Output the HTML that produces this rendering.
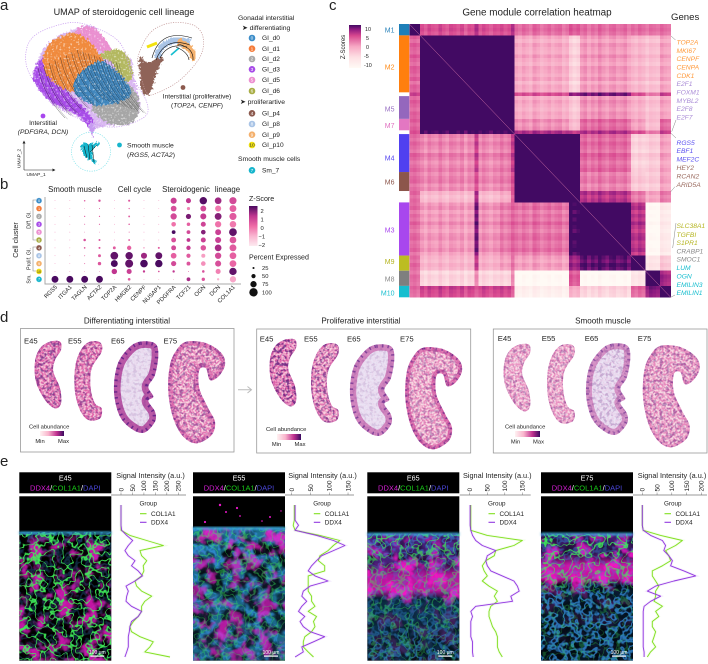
<!DOCTYPE html>
<html lang="en"><head><meta charset="utf-8"><title>Steroidogenic cell lineage figure</title>
<style>
html,body{margin:0;padding:0;background:#fff}
svg{display:block}
text{font-family:"Liberation Sans",sans-serif;fill:#222}
.it{font-style:italic}
</style></head>
<body>
<svg id="fig" xmlns="http://www.w3.org/2000/svg" width="708" height="664" viewBox="0 0 708 664">
<defs>
<linearGradient id="zbar" x1="0" y1="1" x2="0" y2="0"><stop offset="0" stop-color="#fdeaf0"/><stop offset=".25" stop-color="#f9b5d0"/><stop offset=".5" stop-color="#ee6aa6"/><stop offset=".75" stop-color="#c0358f"/><stop offset="1" stop-color="#4a0a60"/></linearGradient>
<linearGradient id="hbar" x1="0" y1="1" x2="0" y2="0"><stop offset="0" stop-color="#fffaf5"/><stop offset=".25" stop-color="#fde0e4"/><stop offset=".5" stop-color="#f7a8c4"/><stop offset=".75" stop-color="#d8488f"/><stop offset=".9" stop-color="#8e1a80"/><stop offset="1" stop-color="#420a63"/></linearGradient>
<linearGradient id="abar"><stop offset="0" stop-color="#fff2f2"/><stop offset=".35" stop-color="#f9b4cc"/><stop offset=".7" stop-color="#c0308f"/><stop offset="1" stop-color="#3a0a60"/></linearGradient>
<filter id="f-rough" x="-15%" y="-15%" width="130%" height="130%"><feTurbulence type="fractalNoise" baseFrequency=".4" numOctaves="2" seed="7"/><feDisplacementMap in="SourceGraphic" scale="6" xChannelSelector="R" yChannelSelector="G"/></filter>
<filter id="f-grain" x="0" y="0" width="1" height="1" color-interpolation-filters="sRGB"><feTurbulence type="fractalNoise" baseFrequency=".55" numOctaves="1" seed="17"/><feColorMatrix values="0 0 0 0 1  0 0 0 0 1  0 0 0 0 1  1 0 0 0 0"/><feComponentTransfer><feFuncA type="table" tableValues="0 0 0 0 0 0 .2 .9 1 1 1"/></feComponentTransfer></filter>
<filter id="f-mesh" x="0" y="0" width="1" height="1" color-interpolation-filters="sRGB"><feTurbulence type="fractalNoise" baseFrequency=".11" numOctaves="2" seed="4"/><feColorMatrix values="0 0 0 0 .25  0 0 0 0 .95  0 0 0 0 .35  1 0 0 0 0"/><feComponentTransfer><feFuncA type="table" tableValues="0 0 0 0 0 0 0 0 0 0 0 0 0 0 0 0 0 0 0 .7 1 .7 0 0 0 0 0 0 0 0 0 0 0 0 0 0 0 0 0 0 0"/></feComponentTransfer></filter>
<filter id="f-cyan" x="0" y="0" width="1" height="1" color-interpolation-filters="sRGB"><feTurbulence type="fractalNoise" baseFrequency=".14" numOctaves="2" seed="11"/><feColorMatrix values="0 0 0 0 .2  0 0 0 0 .55  0 0 0 0 .85  0 1 0 0 0"/><feComponentTransfer><feFuncA type="table" tableValues="0 0 0 0 0 0 0 .6 1 1 .6 0 0 0 0 0 0 0 0 0 0"/></feComponentTransfer></filter>
<filter id="f-blob" x="0" y="0" width="1" height="1" color-interpolation-filters="sRGB"><feTurbulence type="fractalNoise" baseFrequency=".07" numOctaves="3" seed="9"/><feColorMatrix values="0 0 0 0 .95  0 0 0 0 .1  0 0 0 0 .8  0 0 1 0 0"/><feComponentTransfer><feFuncA type="table" tableValues="0 0 0 0 0 .1 .7 1 1 1 1"/></feComponentTransfer></filter>
<filter id="f-hole" x="0" y="0" width="1" height="1" color-interpolation-filters="sRGB"><feTurbulence type="fractalNoise" baseFrequency=".09" numOctaves="2" seed="21"/><feColorMatrix values="0 0 0 0 0  0 0 0 0 0  0 0 0 0 0  1 0 0 0 0"/><feComponentTransfer><feFuncA type="table" tableValues="0 0 0 0 0 .5 1 1 1 1 1"/></feComponentTransfer></filter>
<filter id="f-spot-pink" x="0" y="0" width="1" height="1" color-interpolation-filters="sRGB"><feTurbulence type="fractalNoise" baseFrequency=".5" numOctaves="1" seed="5"/><feColorMatrix values="0 0 0 0 .85  0 0 0 0 .25  0 0 0 0 .6  1 0 0 0 0"/><feComponentTransfer><feFuncA type="table" tableValues="0 0 0 0 0 .5 1 1 1 1 1"/></feComponentTransfer></filter>
<filter id="f-spot-purple" x="0" y="0" width="1" height="1" color-interpolation-filters="sRGB"><feTurbulence type="fractalNoise" baseFrequency=".3" numOctaves="2" seed="13"/><feColorMatrix values="0 0 0 0 .3  0 0 0 0 .05  0 0 0 0 .45  0 1 0 0 0"/><feComponentTransfer><feFuncA type="table" tableValues="0 0 0 0 0 0 .7 1 1 1 1"/></feComponentTransfer></filter>
<filter id="f-soft"><feGaussianBlur stdDeviation="1.2"/></filter>
<clipPath id="umap-main-clip"><path id="umap-main-clip-path"/></clipPath>
</defs>

<g font-size="15">
<text x="0" y="10">a</text>
<text x="0" y="189">b</text>
<text x="329" y="10">c</text>
<text x="0" y="322">d</text>
<text x="0" y="466">e</text>
</g>

<g id="umap">
<text x="124" y="15" text-anchor="middle" font-size="9.1">UMAP of steroidogenic cell lineage</text>
<g id="umap-blobs"></g>
<path d="M157 58Q163 35 190 42" fill="none" stroke="#a9c4e6" stroke-width="6" filter="url(#f-rough)"/>
<path d="M178 41Q197 50 192 60" fill="none" stroke="#f4b06c" stroke-width="6" filter="url(#f-rough)"/>
<path d="M147 47L157 43" fill="none" stroke="#f3e20f" stroke-width="3"/>
<path d="M171 55L179 48" fill="none" stroke="#17becf" stroke-width="1.6"/>
<g clip-path="url(#umap-main-clip)"><rect x="28" y="24" width="118" height="104" fill="#000" filter="url(#f-grain)" opacity=".55"/></g>
<g id="umap-streams" fill="none" stroke="#1a1a1a" stroke-width=".4"></g>
<path d="M152 58Q160 28 192 38M156 60Q165 36 190 45M160 58Q168 42 187 47M178 44Q194 48 193 60M176 47Q188 52 189 60" fill="none" stroke="#111" stroke-width=".6"/>
<path d="M84 146L87 158M88 144L90 160M92 145L94 162M97 145L90 152" fill="none" stroke="#111" stroke-width=".5"/>
<g fill="none" stroke-dasharray="1.2 1.2" stroke-width=".7">
<path id="outline-a" stroke="#c79bf0"/>
<path id="outline-b" stroke="#c49a9a"/>
<circle cx="91" cy="151.7" r="19.5" stroke="#7fe3ea"/>
</g>
<circle cx="43" cy="116" r="2.4" fill="#a847ee"/>
<text x="43" y="125" text-anchor="middle" font-size="6.5">Interstitial</text>
<text x="43" y="134" text-anchor="middle" font-size="6.7" class="it">(PDFGRA, DCN)</text>
<circle cx="183" cy="87.5" r="2.4" fill="#8c5a4e"/>
<text x="197" y="98.5" text-anchor="middle" font-size="6.6">Interstitial (proliferative)</text>
<text x="197" y="107.5" text-anchor="middle" font-size="6.6">(<tspan class="it">TOP2A, CENPF</tspan>)</text>
<circle cx="119.5" cy="145" r="2.4" fill="#17b5cc"/>
<text x="127" y="147.5" font-size="6.8">Smooth muscle</text>
<text x="127" y="157" font-size="6.8">(<tspan class="it">RGS5, ACTA2</tspan>)</text>
<path d="M24 170V143M24 170H53" fill="none" stroke="#222" stroke-width=".6"/>
<path d="M24 140.5l-1.5 3h3zM55.5 170l-3 -1.5v3z" fill="#222"/>
<text transform="translate(20.5,168) rotate(-90)" font-size="4.8">UMAP_2</text>
<text x="26.5" y="176" font-size="4.8">UMAP_1</text>
<text x="238" y="20" font-size="6.8">Gonadal interstitial</text>
<text x="242" y="30" font-size="6.8">➤ differentiating</text>
<text x="240" y="104" font-size="6.8">➤ proliferartive</text>
<text x="238" y="161" font-size="6.8">Smooth muscle cells</text>
<g id="umap-legend"></g>
</g>

<g id="dotplot">
<g font-size="7.8">
<text x="75" y="192" text-anchor="middle">Smooth muscle</text>
<text x="134.5" y="192" text-anchor="middle">Cell cycle</text>
<text x="186" y="192" text-anchor="middle">Steroidogenic</text>
<text x="227.5" y="192" text-anchor="middle">lineage</text>
</g>
<text transform="translate(18,240) rotate(-90)" text-anchor="middle" font-size="7.2">Cell cluster</text>
<g font-size="5.2" text-anchor="middle">
<text transform="translate(30.5,220) rotate(-90)">Diff. GI.</text>
<text transform="translate(30.5,259) rotate(-90)">Prolif. GI.</text>
<text transform="translate(30.5,279) rotate(-90)">Sm.</text>
</g>
<path d="M36 200H33V240H36M36 247H33V271H36" fill="none" stroke="#888" stroke-width=".6"/>
<path d="M45 197V284H241" fill="none" stroke="#aaa" stroke-width="1"/>
<g id="dot-marks"></g>
<text x="249" y="201" font-size="7.1">Z-Score</text>
<rect x="249" y="206" width="8.5" height="40" fill="url(#zbar)"/>
<g font-size="5.8">
<text x="260.5" y="213">2</text>
<text x="260.5" y="221.5">1</text>
<text x="260.5" y="230">0</text>
<text x="258.5" y="238.5">−1</text>
<text x="258.5" y="247">−2</text>
</g>
<text x="249" y="259.5" font-size="7.1">Percent Expressed</text>
<g id="size-legend"></g>
</g>

<g id="heat">
<text x="537" y="15.5" text-anchor="middle" font-size="9.9">Gene module correlation heatmap</text>
<text x="671" y="20" font-size="9.6">Genes</text>
<text transform="translate(345,47) rotate(-90)" text-anchor="middle" font-size="6">Z-Scores</text>
<rect x="349" y="25" width="12" height="43" fill="url(#hbar)"/>
<g font-size="5.4">
<text x="365" y="31">10</text>
<text x="366" y="40">5</text>
<text x="366" y="49">0</text>
<text x="364" y="58">-5</text>
<text x="364" y="67">-10</text>
</g>
<g id="heat-side"></g>
<g id="heat-cells" shape-rendering="crispEdges"></g>
<line x1="409.3" y1="24" x2="670.7" y2="297.3" stroke="#d070a8" stroke-width=".5"/>
<g id="heat-genes"></g>
<path d="M671 36L675.5 40M671.7 131.7L676 120M671 133.3L676 138M670.7 191.7L675 186.7M672.7 248L676 223M670.7 297.3L675 295" fill="none" stroke="#666" stroke-width=".4"/>
</g>

<g id="spatial">
<g font-size="8.1">
<text x="127" y="323.5" text-anchor="middle">Differentiating interstitial</text>
<text x="361" y="323.5" text-anchor="middle">Proliferative interstitial</text>
<text x="603" y="323.5" text-anchor="middle">Smooth muscle</text>
</g>
<rect x="20.5" y="328.5" width="213.5" height="123.5" fill="#fff" stroke="#999" stroke-width=".8"/>
<rect x="256.7" y="329" width="214" height="124" fill="#fff" stroke="#999" stroke-width=".8"/>
<rect x="493.3" y="329" width="213.7" height="124" fill="#fff" stroke="#999" stroke-width=".8"/>
<path d="M238 389.7H251M247.5 386.5L251.5 389.7L247.5 393" fill="none" stroke="#bbb" stroke-width="1"/>
<g id="spatial-sections"></g>
<g font-size="7.7">
<text x="24" y="343.5">E45</text><text x="68" y="343.5">E55</text><text x="111" y="343.5">E65</text><text x="163.5" y="343.5">E75</text>
<text x="259.7" y="341.5">E45</text><text x="304" y="341.5">E55</text><text x="347" y="341.5">E65</text><text x="400" y="341.5">E75</text>
<text x="497.7" y="341">E45</text><text x="541.7" y="341">E55</text><text x="584.7" y="341">E65</text><text x="637.7" y="341">E75</text>
</g>
<g font-size="5.8">
<text x="29" y="428.5">Cell abundance</text>
<rect x="40" y="431" width="24" height="5" fill="url(#abar)"/>
<text x="40" y="443" text-anchor="middle">Min</text><text x="63.5" y="443" text-anchor="middle">Max</text>
<text x="266" y="431">Cell abundance</text>
<rect x="277" y="434" width="24" height="6" fill="url(#abar)"/>
<text x="276.5" y="446" text-anchor="middle">Min</text><text x="300" y="446" text-anchor="middle">Max</text>
<text x="505" y="428.5">Cell abundance</text>
<rect x="515" y="431" width="25" height="6" fill="url(#abar)"/>
<text x="515.5" y="443.5" text-anchor="middle">Min</text><text x="538.5" y="443.5" text-anchor="middle">Max</text>
</g>
</g>

<g id="imaging"></g>
<g id="profiles"></g>
</svg>

<script>
/* ---------- panel b data ---------- */
const dotGenes = ['RGS5','ITGA1','TAGLN','ACTA2','TOP2A','HMGB2','CENPF','NUSAP1','PDGFRA','TCF21','OGN','DCN','COL1A1'];
const dotClusters = ['0','1','2','3','5','6','4','8','9','10','7'];
const dotPercent = [
 [4,4,18,28,6,25,4,6,72,60,88,80,85],
 [4,3,8,12,5,15,3,5,68,38,70,72,82],
 [4,3,15,15,5,22,3,5,75,62,72,82,85],
 [3,3,12,14,5,18,3,5,55,42,60,75,78],
 [3,3,8,8,4,12,3,4,45,45,55,70,92],
 [4,4,30,24,6,22,4,5,58,45,60,72,80],
 [3,4,20,24,34,52,14,24,58,52,65,80,82],
 [4,4,12,34,92,88,72,82,68,50,48,75,80],
 [4,4,12,40,82,95,90,88,62,46,55,72,80],
 [4,3,8,8,65,60,28,20,28,10,30,60,88],
 [82,82,82,82,6,32,5,6,5,45,40,28,75]];
const dotZ = [
 [0,0,.3,.5,0,.4,0,0,.8,1,1.9,1.3,.6],
 [0,0,.3,.3,0,.3,0,0,.5,-.3,.6,-.2,.2],
 [0,0,.3,.3,0,.3,0,0,.6,1.6,.9,1.5,.3],
 [0,0,.3,.3,0,.3,0,0,-.1,.2,.7,-.1,-.2],
 [0,0,.2,.2,0,.2,0,0,2,.6,1.5,.8,1.8],
 [0,0,.5,.4,0,.3,0,0,.5,1,.8,.8,.4],
 [0,0,.3,.4,.3,.2,.1,.3,.6,.9,.4,1.2,.3],
 [0,0,.2,.4,1.8,1.8,1.3,1.8,.2,.3,-.7,.6,.2],
 [0,0,.2,.4,2,1.8,2.2,2.2,.6,.4,-.5,.5,.1],
 [0,0,.2,.2,1,.8,.9,.5,1,.3,.5,-.3,1.8],
 [2.2,2.2,2.2,2.2,0,.3,0,0,0,1.2,.4,-1,-.8]];
const sizeLegendValues = [25,50,75,100];

/* ---------- panel c data ---------- */
const moduleNames = ['M1','M2','gap1','M5','M7','gap2','M4','M6','gap3','M3','M9','M8','M10'];
const moduleBins = [3,15,1,6,3,1,10,5,3,14,4,4,3];
const moduleCorr = [
 [14,4.5,6,4.5,4.5,6,3,3,4,3,3,3,3],
 [3.5,14,14,14,14,14,-.5,-.5,-4,.5,-1.5,-2,0],
 [5,14,14,14,14,14,4,4,7,8,4,2,5],
 [3.5,14,14,14,14,14,-.5,-.5,-3,1,-1,-2,0],
 [3.5,14,14,14,14,14,1,1,-2,3,0,-2,3],
 [4,9,9,9,9,9,6,6,5,6,4,2,5],
 [3,1.5,5,1.5,2,5,14,14,14,3,-4,-3,0],
 [3,1.5,4,1.5,2,4,14,14,14,2,-3,-3,0],
 [3,-2,6,-2,-1,3,14,14,14,6,2,0,2],
 [3,.5,8,1,2,3,2.5,2.5,10,14,6,-10,-7],
 [3,-1.5,5,-1,0,2,0,0,7,9,14,-6,-3],
 [3,-4,1,-4,-4,1,-10,-10,4,-10,-6,13,7],
 [3,5,3,5,5,3,-8,-8,-1,-4,3,8,13]];
const geneShift = [0,.5,-.5, .5,-1,1,0,-.5,1.5,0,-1,1,.5,-.5,1,-1.5,.5,0, 1, -.5,1,0,-1,.5,0, 1,-.5,.5, 1, .5,-.5,1,0,-1,1.5,.5,-1,0,1, -.5,.5,1,-1,0, 1,-.5,.5, 0,1,-1,.5,-.5,1.5,0,-1,.5,1,-.5,0,1,-1, .5,-.5,1,0, -1,.5,0,-.5, 1,0,-.5];
const sideLabels = [['M1',30,'#2b83ba'],['M2',67,'#ff8c1a'],['M5',109,'#9a72c4'],['M7',125.5,'#e070c0'],['M4',158,'#5546f0'],['M6',182,'#8c564b'],['M3',230,'#a847ee'],['M9',261.5,'#b5b520'],['M8',279,'#8a8a8a'],['M10',293,'#17becf']];
const moduleColors = ['#1f7fb8','#ff7f0e',null,'#9467bd','#e377c2',null,'#5040f0','#8c564b',null,'#a847ee','#bcbd22','#7f7f7f','#17becf'];
const geneLabels = ['TOP2A','MKI67','CENPF','CENPA','CDK1','E2F1','FOXM1','MYBL2','E2F8','E2F7','RGS5','EBF1','MEF2C','HEY2','RCAN2','ARID5A','SLC38A1','TGFBI','S1PR1','CRABP1','SMOC1','LUM','OGN','EMILIN3','EMILIN1'];
const geneRows = [44.5,53,61.2,69.7,78,86.2,94.7,103,111.2,119.7,145,153.2,161.7,170,178.7,187.2,228.2,237,245.2,253.7,261.7,270.2,278.7,287.2,295.2];
const geneColors = ['#ff9a3c','#ff9a3c','#ff9a3c','#ff9a3c','#ff9a3c','#a98bd6','#a98bd6','#a98bd6','#a98bd6','#a98bd6','#5b50f0','#5b50f0','#5b50f0','#9a6a5e','#9a6a5e','#9a6a5e','#b5b520','#b5b520','#b5b520','#888','#888','#17becf','#17becf','#17becf','#17becf'];

/* ---------- panel e data (signal intensity, sampled at equal depth steps) ---------- */
const e45Col = [0,0,0,0,0,0,39,112,185,83,90,112,97,100,90,61,68,90,134,104,90,90,75,54,39,46,83,141,126,104,214];
const e45Ddx = [0,0,0,0,0,3,25,51,32,17,32,61,46,75,94,61,22,32,25,22,46,90,75,46,39,36,32,32,32,25,17];
const e55Col = [7,7,7,7,4,9,75,128,111,97,75,71,88,88,44,44,44,44,53,53,62,44,66,58,62,53,35,31,31,44,58];
const e55Ddx = [9,9,9,9,18,9,66,111,142,111,80,66,53,44,62,97,49,31,27,40,27,18,35,22,31,49,88,58,27,31,9];
const e65Col = [3,3,3,3,3,3,50,150,126,74,70,46,36,41,50,36,55,79,70,79,60,55,55,60,65,74,79,79,79,84,93];
const e65Ddx = [1,1,1,1,1,3,8,17,36,74,50,46,50,60,93,126,136,141,117,122,17,3,8,3,3,3,3,8,8,8,10];
const e75Col = [0,0,0,0,0,3,62,136,113,79,90,96,68,34,34,45,56,45,45,40,68,45,56,34,34,45,40,34,45,28,17];
const e75Ddx = [0,0,0,0,0,3,28,68,79,73,90,102,96,141,181,107,45,17,62,28,6,3,3,3,3,3,3,3,3,6,6];
const e45Ticks = [0,50,100,150,200,250];
const e55Ticks = [0,50,100,150];
const e65Ticks = [0,50,100,150];
const e75Ticks = [0,50,100,150,200];

const NS = 'http://www.w3.org/2000/svg';
function mk(tag, attrs, parent, text){
  const el = document.createElementNS(NS, tag);
  for (const k in attrs) el.setAttribute(k, attrs[k]);
  if (text !== undefined) el.textContent = text;
  if (parent) parent.appendChild(el);
  return el;
}
function hexRgb(h){return [parseInt(h.slice(1,3),16),parseInt(h.slice(3,5),16),parseInt(h.slice(5,7),16)];}
function ramp(stops, v){
  if (v <= stops[0][0]) return stops[0][1];
  for (let i = 1; i < stops.length; i++){
    if (v <= stops[i][0]){
      const t = (v - stops[i-1][0]) / (stops[i][0] - stops[i-1][0]);
      const a = hexRgb(stops[i-1][1]), b = hexRgb(stops[i][1]);
      return 'rgb(' + a.map((c,j) => Math.round(c + (b[j]-c)*t)).join(',') + ')';
    }
  }
  return stops[stops.length-1][1];
}
function closedCurve(p){
  const n = p.length;
  let d = 'M' + p[0][0] + ' ' + p[0][1];
  for (let i = 0; i < n; i++){
    const a = p[(i-1+n)%n], b = p[i], c = p[(i+1)%n], e = p[(i+2)%n];
    d += 'C' + (b[0]+(c[0]-a[0])/6).toFixed(1) + ' ' + (b[1]+(c[1]-a[1])/6).toFixed(1) + ' ' +
         (c[0]-(e[0]-b[0])/6).toFixed(1) + ' ' + (c[1]-(e[1]-b[1])/6).toFixed(1) + ' ' + c[0] + ' ' + c[1];
  }
  return d + 'Z';
}

/* ---------- panel a ---------- */
const clusterColor = {'0':'#3a8cc8','1':'#f57c3a','2':'#a9a9a9','3':'#a74be8','5':'#ec8fd0','6':'#a8ad45','4':'#8c5a4e','8':'#a9c4e6','9':'#f4b06c','10':'#f0e010','7':'#16b5cc'};
const umapMass = [[37,62],[50,42],[77,28],[95,27],[110,48],[130,58],[134,78],[140,105],[132,122],[108,126],[92,128],[76,116],[50,102],[34,80]];
const umapShapes = [
 ['scatter-under','#d9b6f2',umapMass,0],
 ['gi-d5','#ea8fd0',[[77,30],[93,28],[107,43],[110,50],[97,50],[80,43]],2],
 ['gi-d3','#a74be8',[[37,67],[45,58],[50,80],[67,93],[87,113],[93,123],[90,127],[77,113],[50,100],[35,80]],2],
 ['gi-d1','#f08a3e',[[50,45],[77,35],[100,57],[97,63],[77,80],[73,90],[57,83],[45,67]],3],
 ['gi-d6','#b3b860',[[100,55],[117,50],[128,57],[132,77],[123,80],[113,63]],1],
 ['gi-d2','#a6a6a6',[[113,72],[132,90],[138,107],[130,122],[110,122],[93,107],[112,100]],3],
 ['gi-d0','#3f86bd',[[77,80],[97,63],[113,70],[130,93],[110,103],[93,103],[77,93]],3],
 ['gi-p4','#8f6458',[[140,57],[148,63],[163,57],[157,72],[150,93],[143,93],[140,77]],0],
 ['sm-7','#17b5cc',[[82,143],[88,144],[100,143],[92,152],[97,164],[90,160],[83,154]],0],
 ['sm-bridge','#c69af0',[[89,124],[95,125],[92,137]],0]
];
const blobs = document.getElementById('umap-blobs');
umapShapes.forEach(s => {
  const el = mk('path', {d: closedCurve(s[2]), fill: s[1], stroke: s[1], 'stroke-width': s[3], filter: 'url(#f-rough)'}, blobs);
  
  
});
document.getElementById('umap-main-clip-path').setAttribute('d', closedCurve(umapMass));
document.getElementById('outline-a').setAttribute('d', closedCurve([[120,43],[133,77],[147,103],[143,118],[110,127],[67,113],[40,90],[26,63],[33,37],[67,23],[93,27]]));
document.getElementById('outline-b').setAttribute('d', closedCurve([[138,57],[150,33],[170,23],[193,25],[203,37],[200,57],[180,80],[157,93],[147,93],[140,73]]));
const streams = document.getElementById('umap-streams');
for (let k = 0; k < 15; k++){
  const sx = 38 + k*5.6, sy = k <= 7 ? 68 - k*2.6 : 50 + (k-7)*1.8;
  for (let j = 0; j < 2; j++){
    const ox = j*2.6, oy = j*1.2;
    const ex = sx + ox + 27, ey = Math.min(sy + oy + 50, 122);
    const el = mk('path', {d: 'M'+(sx+ox)+' '+(sy+oy)+'Q'+(sx+ox+6)+' '+(sy+oy+28)+' '+ex+' '+ey, opacity: j ? .45 : .85}, streams);
    
    
  }
}
const umapLegendItems = [['0','GI_d0',38],['1','GI_d1',48.7],['2','GI_d2',59],['3','GI_d3',69.3],['5','GI_d5',80],['6','GI_d6',91],['4','GI_p4',113.3],['8','GI_p8',124],['9','GI_p9',134.7],['10','GI_p10',145],['7','Sm_7',170.3]];
const umapLegend = document.getElementById('umap-legend');
umapLegendItems.forEach(it => {
  const g = mk('g', {}, umapLegend);
  
  
  mk('circle', {cx: 252, cy: it[2], r: 3.3, fill: clusterColor[it[0]]}, g);
  mk('text', {x: 252, y: it[2]+1.7, 'text-anchor': 'middle', 'font-size': 4.8, style: 'fill:' + (it[0]==='10' ? '#333' : '#fff')}, g, it[0]);
  mk('text', {x: 262, y: it[2]+2.2, 'font-size': 6.6}, g, it[1]);
});

/* ---------- panel b ---------- */
const dotX = i => 55 + i*14.83;
const dotY = i => 200.7 + i*7.86;
const dotR = p => p/100*4.2;
const dotColor = z => ramp([[-2,'#fdeaf0'],[-1,'#f9b5d0'],[0,'#ee6aa6'],[1,'#c0358f'],[2,'#4a0a60']], z);
const dotMarks = document.getElementById('dot-marks');
dotClusters.forEach((c, r) => {
  const b = mk('circle', {cx: 39, cy: dotY(r), r: 2.9, fill: clusterColor[c], stroke: '#fff', 'stroke-width': .3}, dotMarks);
  
  
  const t = mk('text', {x: 39, y: dotY(r)+1.4, 'text-anchor': 'middle', 'font-size': 3.8, style: 'fill:' + (c==='10' ? '#333' : '#fff')}, dotMarks, c);
  
  
  dotGenes.forEach((g, i) => {
    const el = mk('circle', {cx: dotX(i), cy: dotY(r), r: Math.max(.35, dotR(dotPercent[r][i])), fill: dotColor(dotZ[r][i])}, dotMarks);
    
    
  });
});
dotGenes.forEach((g, i) => {
  const el = mk('text', {transform: 'translate(' + (dotX(i)+2.5) + ',287.5) rotate(-45)', 'text-anchor': 'end', 'font-size': 5.8}, dotMarks, g);
  
  
});
const sizeLegend = document.getElementById('size-legend');
sizeLegendValues.forEach((v, i) => {
  const y = 268 + i*8.1;
  const el = mk('circle', {cx: 253.5, cy: y, r: dotR(v), fill: '#111'}, sizeLegend);
  
  
  const t = mk('text', {x: 262, y: y+2, 'font-size': 5.8}, sizeLegend, String(v));
  
  
});

/* ---------- panel c ---------- */
const binCount = moduleBins.reduce((a,b) => a+b, 0);
const heatX = i => 409.3 + i*261.4/binCount;
const heatY = i => 24 + i*273.3/binCount;
const heatColor = v => ramp([[-10,'#fffaf5'],[-5,'#fde0e4'],[0,'#f7a8c4'],[5,'#d8488f'],[8,'#8e1a80'],[10,'#420a63']], v);
const binModule = [];
moduleBins.forEach((n, m) => { for (let i = 0; i < n; i++) binModule.push(m); });
const cells = document.getElementById('heat-cells');
for (let r = 0; r < binCount; r++){
  for (let c = 0; c < binCount; c++){
    const v = moduleCorr[binModule[r]][binModule[c]] + .7*(geneShift[r] + geneShift[c]);
    const el = mk('rect', {x: heatX(c).toFixed(2), y: heatY(r).toFixed(2), width: (261.4/binCount+.4).toFixed(2), height: (273.3/binCount+.4).toFixed(2), fill: heatColor(v)}, cells);
    
    
  }
}
const side = document.getElementById('heat-side');
let binCursor = 0;
moduleBins.forEach((n, m) => {
  if (moduleColors[m]){
    const el = mk('rect', {x: 399, y: heatY(binCursor), width: 10.3, height: heatY(binCursor+n)-heatY(binCursor), fill: moduleColors[m]}, side);
    
    
  }
  binCursor += n;
});
sideLabels.forEach(l => {
  const el = mk('text', {x: 394.5, y: l[1]+2.5, 'text-anchor': 'end', 'font-size': 7, style: 'fill:' + l[2]}, side, l[0]);
  
  
});
const genesG = document.getElementById('heat-genes');
geneLabels.forEach((g, i) => {
  const el = mk('text', {x: 676.5, y: geneRows[i], 'font-size': 6.7, 'font-style': 'italic', style: 'fill:' + geneColors[i]}, genesG, g);
  
  
});

/* ---------- panel d ---------- */
const sectionShapes = {
 E45: [[150,50],[180,50],[183,75],[165,105],[160,140],[180,190],[183,235],[165,250],[135,225],[108,170],[105,110],[120,70]],
 E55: [[265,52],[300,52],[305,80],[275,130],[272,190],[285,235],[305,250],[300,280],[265,285],[240,255],[225,200],[225,130],[240,80]],
 E65: [[420,50],[465,55],[475,90],[465,150],[445,185],[460,215],[445,228],[465,260],[465,290],[435,322],[400,315],[360,275],[342,200],[352,120],[385,70]],
 E75: [[560,50],[620,55],[665,85],[675,120],[655,155],[630,165],[618,130],[598,135],[598,190],[625,250],[645,290],[635,330],[590,355],[550,335],[520,280],[505,200],[510,120],[530,75]]
};
const sectionPlacement = [
 ['E45',0,0,'#f6c3d8',.7,.55,'#cf4fa0',7,.45], ['E55',0,0,'#f6c3d8',.7,.45,'#cf4fa0',6,.4], ['E65',0,0,'#ebe2f3',.05,.12,'#a82c8e',20,.75], ['E75',0,0,'#f9d4e0',.6,.4,'#cf4fa0',13,.5],
 ['E45',235,-2,'#f6c3d8',.7,.7,'#d05aa6',6,.4], ['E55',236.7,2,'#f8cfdd',.6,.55,'#d05aa6',5,.35], ['E65',236,3,'#ebe3f4',.05,.12,'#c04a9c',19,.6], ['E75',237,6,'#f9d9e3',.5,.3,'#c83a94',12,.55],
 ['E45',469,3,'#f9d9e5',.45,.3,'#e07ab4',5,.3], ['E55',472.7,3,'#f9d9e5',.45,.3,'#e07ab4',5,.3], ['E65',472,2,'#ebe3f4',.1,.22,'#c04a9c',18,.5], ['E75',474.6,4,'#f7d6e2',.5,.35,'#e07ab4',9,.45]
];
const secRoot = document.getElementById('spatial-sections');
const defs = document.querySelector('defs');
sectionPlacement.forEach((s, i) => {
  const d = closedCurve(sectionShapes[s[0]]);
  const tr = 'translate(' + s[1] + ',' + (325 + s[2]) + ') scale(.3333)';
  const cp = mk('clipPath', {id: 'sec-clip-' + i}, defs);
  mk('path', {d: d, transform: tr}, cp);
  const xs = sectionShapes[s[0]].map(p => p[0]/3 + s[1]), ys = sectionShapes[s[0]].map(p => p[1]/3 + 325 + s[2]);
  const bx = Math.min(...xs)-2, by = Math.min(...ys)-2, bw = Math.max(...xs)-bx+2, bh = Math.max(...ys)-by+2;
  const g = mk('g', {'clip-path': 'url(#sec-clip-' + i + ')'}, secRoot);
  
  
  mk('rect', {x: bx, y: by, width: bw, height: bh, fill: s[3]}, g);
  mk('rect', {x: bx, y: by, width: bw, height: bh, fill: '#000', filter: 'url(#f-spot-pink)', opacity: s[4]}, g);
  mk('path', {d: d, transform: tr, fill: 'none', stroke: s[6], 'stroke-width': s[7]*2, opacity: s[8]}, g);
  mk('path', {d: d, transform: tr, fill: 'none', stroke: '#4a1080', 'stroke-width': s[7], 'stroke-dasharray': '5 13', opacity: s[8]*.9}, g);
  mk('rect', {x: bx, y: by, width: bw, height: bh, fill: '#000', filter: 'url(#f-spot-purple)', opacity: s[5]}, g);
});

/* ---------- panel e images ---------- */
const imgY = 496.3, imgH = 164.4;
const imagePanels = [
 {n:'E45', x:19.3, edge:.217, layers:[
   ['f-cyan','',[[.217,.6],[.3,.3],[1,.25]]],
   ['f-blob','',[[.217,0],[.3,.8],[1,.8]]],
   ['f-mesh','',[[.217,1],[1,1]]]]},
 {n:'E55', x:193, edge:.19, layers:[
   ['fill','#1f7fa6',[[.19,.9],[1,.8]]],
   ['f-cyan','',[[.19,.8],[1,.6]]],
   ['f-hole','',[[.19,0],[.3,.9],[.55,.8],[1,.7]]],
   ['f-blob','',[[.19,.85],[.55,.6],[.8,.75],[1,.6]]],
   ['f-mesh','',[[.19,.5],[1,.35]]]]},
 {n:'E65', x:367.3, edge:.225, layers:[
   ['fill','#5a2aa0',[[.225,.9],[.4,.75],[.6,.2],[.62,0],[1,0]]],
   ['fill','#0d3c5c',[[.55,0],[.65,.8],[1,.7]]],
   ['f-hole','',[[.225,.2],[.4,.7],[.5,.2],[.6,0],[1,.7]]],
   ['f-blob','',[[.225,.5],[.38,.8],[.45,1],[.6,1],[.68,.25],[1,.2]]],
   ['fill','#ee18c0',[[.4,0],[.48,.7],[.57,.8],[.62,0],[1,0]]],
   ['f-cyan','',[[.225,.6],[.5,.25],[1,.6]]],
   ['f-mesh','',[[.225,.9],[.45,.5],[1,.3]]]]},
 {n:'E75', x:541, edge:.225, layers:[
   ['fill','#5a2aa0',[[.225,.7],[.45,.4],[.52,0],[1,0]]],
   ['fill','#0a2f50',[[.5,0],[.58,.6],[1,.45]]],
   ['f-hole','',[[.225,.3],[.5,.5],[.55,.3],[1,.6]]],
   ['f-blob','',[[.225,.55],[.35,.9],[.52,1],[.6,.3],[.72,.12],[1,0]]],
   ['fill','#f018c0',[[.35,0],[.42,.8],[.5,.8],[.54,0],[1,0]]],
   ['f-cyan','',[[.225,.5],[.5,.25],[.6,.8],[1,.8]]],
   ['f-mesh','',[[.225,1],[.5,.7],[.6,.3],[1,.3]]]]}
];
const imaging = document.getElementById('imaging');
imagePanels.forEach((p, pi) => {
  const hd = mk('g', {}, imaging);
  
  
  mk('rect', {x: p.x, y: 472.3, width: 92, height: 21, fill: '#000'}, hd);
  mk('text', {x: p.x+46, y: 480.5, 'text-anchor': 'middle', 'font-size': 7.2, style: 'fill:#fff'}, hd, p.n);
  const t = mk('text', {x: p.x+46, y: 490.7, 'text-anchor': 'middle', 'font-size': 7.5}, hd);
  mk('tspan', {style: 'fill:#d81ed8'}, t, 'DDX4');
  mk('tspan', {style: 'fill:#fff'}, t, '/');
  mk('tspan', {style: 'fill:#18c818'}, t, 'COL1A1');
  mk('tspan', {style: 'fill:#fff'}, t, '/');
  mk('tspan', {style: 'fill:#4a46d8'}, t, 'DAPI');
  const g = mk('g', {}, imaging);
  
  
  mk('rect', {x: p.x, y: imgY, width: 92, height: imgH, fill: '#000'}, g);
  p.layers.forEach((l, li) => {
    const id = 'lay-' + pi + '-' + li;
    const grad = mk('linearGradient', {id: id + '-g', x1: 0, y1: 0, x2: 0, y2: 1}, defs);
    const fi = l[2][0][0];
    mk('stop', {offset: fi, 'stop-color': '#fff', 'stop-opacity': 0}, grad);
    l[2].forEach(st => mk('stop', {offset: st[0], 'stop-color': '#fff', 'stop-opacity': st[1]}, grad));
    const m = mk('mask', {id: id, maskUnits: 'userSpaceOnUse', x: p.x, y: imgY, width: 92, height: imgH}, defs);
    mk('rect', {x: p.x, y: imgY, width: 92, height: imgH, fill: 'url(#' + id + '-g)'}, m);
    const lg = mk('g', {mask: 'url(#' + id + ')'}, g);
    if (l[0] === 'fill') mk('rect', {x: p.x, y: imgY, width: 92, height: imgH, fill: l[1]}, lg);
    else mk('rect', {x: p.x, y: imgY, width: 92, height: imgH, fill: '#000', filter: 'url(#' + l[0] + ')'}, lg);
  });
  mk('rect', {x: p.x, y: imgY + imgH*p.edge - 1, width: 92, height: 3.5, fill: '#38a8d8', opacity: .75, filter: 'url(#f-soft)'}, g);
  const bar = mk('rect', {x: p.x+71, y: 655.5, width: 14, height: 1.2, fill: '#fff'}, g);
  
  
  const sb = mk('text', {x: p.x+78, y: 654, 'text-anchor': 'middle', 'font-size': 5, style: 'fill:#fff'}, g, '100 μm');
  
  
});
[[220,505,1.2],[226,512,1],[237,508,1.1],[240,516,.9],[205,522,1.1],[262,521,.8],[270,517,1],[281,511,.7]].forEach(s => {
  const el = mk('circle', {cx: s[0], cy: s[1], r: s[2], fill: '#e818c8'}, imaging);
  
  
});

/* ---------- panel e profiles ---------- */
const profilePanels = [
 {n:'e45', col:e45Col, ddx:e45Ddx, ticks:e45Ticks, zero:121, k:.2292, left:111, right:186, titleX:150.5, legX:139.5},
 {n:'e55', col:e55Col, ddx:e55Ddx, ticks:e55Ticks, zero:291.7, k:.3755, left:285, right:354, titleX:322.5, legX:313.3},
 {n:'e65', col:e65Col, ddx:e65Ddx, ticks:e65Ticks, zero:469.7, k:.351, left:459.7, right:530.7, titleX:497.3, legX:488},
 {n:'e75', col:e75Col, ddx:e75Ddx, ticks:e75Ticks, zero:642.3, k:.295, left:633, right:707, titleX:672, legX:664}
];
const depthY = i => 505 + i*5.067;
const profiles = document.getElementById('profiles');
profilePanels.forEach(p => {
  const g = mk('g', {}, profiles);
  
  
  const xs = v => p.zero + v*p.k;
  const title = mk('text', {x: p.titleX, y: 478, 'text-anchor': 'middle', 'font-size': 7.3}, g, 'Signal Intensity (a.u.)');
  
  
  const ax = mk('line', {x1: p.left, x2: p.right, y1: 495, y2: 495, stroke: '#999', 'stroke-width': 1}, g);
  
  
  p.ticks.forEach(t => {
    const tk = mk('line', {x1: xs(t), x2: xs(t), y1: 492.5, y2: 495, stroke: '#555', 'stroke-width': .4}, g);
    
    
    const lb = mk('text', {transform: 'translate(' + (xs(t)+2.3) + ',491.5) rotate(-90)', 'font-size': 6.6}, g, String(t));
    
    
  });
  [[p.col,'#80e01e','col1a1'],[p.ddx,'#9238e0','ddx4']].forEach(s => {
    const d = s[0].map((v,i) => (i ? 'L' : 'M') + xs(v).toFixed(1) + ' ' + depthY(i).toFixed(1)).join('');
    const band = mk('path', {d: d, fill: 'none', stroke: s[1], 'stroke-width': 2.6, opacity: .1}, g);
    
    
    const ln = mk('path', {d: d, fill: 'none', stroke: s[1], 'stroke-width': .9, 'stroke-linejoin': 'round'}, g);
    
    
  });
  const lg = mk('text', {x: p.legX, y: 505.5, 'font-size': 6.3}, g, 'Group');
  
  
  [['COL1A1','#80e01e',513.7],['DDX4','#9238e0',522.3]].forEach(e => {
    const sw = mk('line', {x1: p.legX+.5, x2: p.legX+7, y1: e[2], y2: e[2], stroke: e[1], 'stroke-width': 1.1}, g);
    
    
    const tx = mk('text', {x: p.legX+11.5, y: e[2]+2.2, 'font-size': 6.4}, g, e[0]);
    
    
  });
});
</script>
</body></html>
